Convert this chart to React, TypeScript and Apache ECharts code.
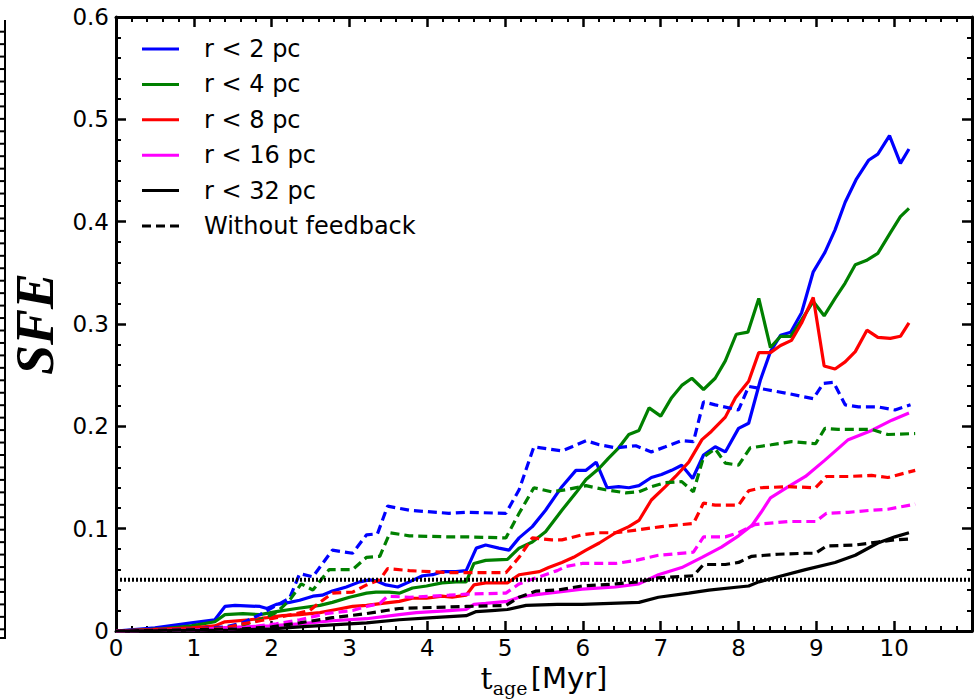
import { useEffect, useRef } from 'react';
import * as echarts from 'echarts';

// Legend labels and line colours, one per enclosing radius
const radiusLabels = ['r < 2 pc', 'r < 4 pc', 'r < 8 pc', 'r < 16 pc', 'r < 32 pc'];
const radiusColors = ['#0000ff', '#008000', '#ff0000', '#ff00ff', '#000000'];
const noFeedbackLabel = 'Without feedback';
const sfeThreshold = 0.05;
const ageRange = [0, 11];
const sfeRange = [0, 0.6];

// SFE vs cluster age [Myr], with feedback (solid)
const sfeR2 = [
  [0, 0], [0.5, 0.003], [0.97, 0.008], [1.27, 0.011], [1.4, 0.024], [1.53, 0.025], [1.85, 0.024],
  [1.94, 0.022], [2.06, 0.026], [2.23, 0.028], [2.36, 0.03], [2.53, 0.034], [2.65, 0.035],
  [2.78, 0.039], [2.96, 0.043], [3.13, 0.048], [3.26, 0.05], [3.34, 0.049], [3.47, 0.045],
  [3.62, 0.043], [3.77, 0.048], [3.94, 0.054], [4.07, 0.055], [4.19, 0.058], [4.37, 0.058],
  [4.5, 0.059], [4.63, 0.081], [4.75, 0.084], [4.92, 0.081], [5.05, 0.079], [5.18, 0.091],
  [5.35, 0.102], [5.52, 0.118], [5.73, 0.141], [5.91, 0.157], [6.04, 0.157], [6.17, 0.165],
  [6.31, 0.14], [6.46, 0.141], [6.59, 0.14], [6.72, 0.142], [6.88, 0.15], [7.01, 0.153],
  [7.14, 0.157], [7.27, 0.162], [7.41, 0.149], [7.55, 0.172], [7.7, 0.18], [7.83, 0.175],
  [8.0, 0.198], [8.13, 0.203], [8.28, 0.245], [8.41, 0.273], [8.54, 0.289], [8.67, 0.292],
  [8.81, 0.311], [8.96, 0.351], [9.11, 0.37], [9.24, 0.392], [9.37, 0.419], [9.51, 0.441],
  [9.67, 0.46], [9.79, 0.466], [9.94, 0.484], [10.08, 0.457], [10.19, 0.471],
];
const sfeR4 = [
  [0, 0], [0.6, 0.002], [0.97, 0.005], [1.27, 0.009], [1.4, 0.016], [1.63, 0.017], [1.85, 0.016],
  [2.06, 0.019], [2.32, 0.022], [2.62, 0.025], [2.78, 0.028], [3.0, 0.033], [3.22, 0.037],
  [3.34, 0.038], [3.51, 0.038], [3.64, 0.037], [3.81, 0.042], [3.99, 0.044], [4.19, 0.047],
  [4.37, 0.048], [4.5, 0.048], [4.6, 0.066], [4.75, 0.069], [5.03, 0.07], [5.18, 0.081],
  [5.35, 0.087], [5.52, 0.097], [5.73, 0.118], [5.91, 0.135], [6.04, 0.148], [6.21, 0.159],
  [6.33, 0.169], [6.46, 0.179], [6.59, 0.192], [6.72, 0.196], [6.85, 0.218], [7.0, 0.21],
  [7.14, 0.228], [7.27, 0.24], [7.4, 0.247], [7.55, 0.236], [7.7, 0.247], [7.83, 0.264],
  [7.97, 0.29], [8.12, 0.292], [8.26, 0.325], [8.41, 0.277], [8.54, 0.288], [8.67, 0.288],
  [8.81, 0.304], [8.96, 0.322], [9.1, 0.308], [9.24, 0.325], [9.37, 0.34], [9.5, 0.358],
  [9.64, 0.362], [9.79, 0.369], [9.95, 0.389], [10.08, 0.405], [10.19, 0.413],
];
const sfeR8 = [
  [0, 0], [0.97, 0.003], [1.27, 0.005], [1.4, 0.009], [1.72, 0.011], [1.94, 0.013], [2.14, 0.015],
  [2.36, 0.016], [2.62, 0.018], [2.83, 0.021], [3.04, 0.024], [3.22, 0.025], [3.42, 0.027],
  [3.64, 0.029], [3.81, 0.032], [3.99, 0.032], [4.19, 0.034], [4.32, 0.033], [4.5, 0.035],
  [4.6, 0.045], [4.75, 0.047], [5.03, 0.047], [5.18, 0.055], [5.44, 0.058], [5.56, 0.062],
  [5.73, 0.067], [5.88, 0.072], [6.04, 0.079], [6.21, 0.086], [6.42, 0.096], [6.59, 0.102],
  [6.72, 0.108], [6.88, 0.128], [7.06, 0.141], [7.19, 0.151], [7.36, 0.165], [7.53, 0.187],
  [7.65, 0.195], [7.83, 0.209], [7.96, 0.228], [8.13, 0.244], [8.26, 0.272], [8.41, 0.272],
  [8.54, 0.279], [8.68, 0.284], [8.81, 0.301], [8.96, 0.326], [9.1, 0.259], [9.24, 0.256],
  [9.37, 0.263], [9.5, 0.273], [9.65, 0.294], [9.79, 0.287], [9.95, 0.286], [10.08, 0.288],
  [10.19, 0.301],
];
const sfeR16 = [
  [0, 0], [1.0, 0.001], [1.33, 0.003], [1.97, 0.005], [2.36, 0.007], [2.78, 0.01], [3.22, 0.012],
  [3.64, 0.016], [3.86, 0.018], [4.07, 0.019], [4.28, 0.02], [4.5, 0.021], [4.6, 0.026],
  [4.75, 0.027], [5.03, 0.029], [5.18, 0.033], [5.35, 0.035], [5.67, 0.038], [5.99, 0.041],
  [6.42, 0.043], [6.72, 0.046], [6.97, 0.055], [7.27, 0.062], [7.53, 0.072], [7.78, 0.082],
  [8.0, 0.093], [8.17, 0.103], [8.29, 0.116], [8.41, 0.13], [8.64, 0.141], [8.86, 0.151],
  [9.11, 0.167], [9.41, 0.187], [9.71, 0.196], [9.97, 0.206], [10.19, 0.213],
];
const sfeR32 = [
  [0, 0], [1.5, 0.001], [2.0, 0.002], [2.36, 0.004], [2.78, 0.006], [3.22, 0.008], [3.64, 0.011],
  [4.07, 0.013], [4.5, 0.015], [4.63, 0.019], [4.83, 0.02], [5.03, 0.021], [5.27, 0.025],
  [5.67, 0.026], [5.99, 0.026], [6.72, 0.028], [6.97, 0.033], [7.36, 0.037], [7.62, 0.04],
  [8.0, 0.043], [8.13, 0.044], [8.26, 0.048], [8.51, 0.053], [8.86, 0.06], [9.24, 0.067],
  [9.5, 0.074], [9.79, 0.086], [10.01, 0.092], [10.19, 0.096],
];

// SFE vs cluster age [Myr], without feedback (dashed)
const sfeR2NoFb = [
  [0, 0], [1.0, 0.002], [1.4, 0.004], [1.63, 0.008], [1.85, 0.016], [2.06, 0.025], [2.23, 0.032],
  [2.36, 0.056], [2.53, 0.053], [2.78, 0.079], [3.04, 0.076], [3.22, 0.094], [3.36, 0.095],
  [3.49, 0.122], [3.77, 0.118], [4.28, 0.115], [4.5, 0.116], [5.01, 0.115], [5.18, 0.138],
  [5.37, 0.18], [5.73, 0.176], [5.86, 0.18], [6.04, 0.186], [6.21, 0.182], [6.42, 0.179],
  [6.68, 0.181], [6.88, 0.175], [7.06, 0.18], [7.27, 0.186], [7.42, 0.185], [7.55, 0.224],
  [7.7, 0.221], [8.0, 0.216], [8.13, 0.239], [8.35, 0.236], [8.64, 0.232], [8.96, 0.227],
  [9.09, 0.242], [9.22, 0.243], [9.37, 0.221], [9.54, 0.219], [9.79, 0.219], [10.01, 0.216],
  [10.21, 0.221],
];
const sfeR4NoFb = [
  [0, 0], [1.4, 0.002], [1.63, 0.006], [1.85, 0.011], [2.06, 0.018], [2.23, 0.03], [2.38, 0.046],
  [2.53, 0.04], [2.74, 0.06], [3.04, 0.06], [3.22, 0.072], [3.39, 0.073], [3.52, 0.096],
  [3.77, 0.093], [4.28, 0.092], [4.5, 0.092], [5.01, 0.091], [5.18, 0.115], [5.37, 0.14],
  [5.6, 0.136], [5.78, 0.138], [6.04, 0.142], [6.29, 0.138], [6.55, 0.135], [6.72, 0.136],
  [6.88, 0.141], [7.06, 0.145], [7.27, 0.146], [7.42, 0.136], [7.55, 0.17], [7.7, 0.178],
  [7.83, 0.164], [8.0, 0.162], [8.15, 0.179], [8.42, 0.182], [8.68, 0.185], [8.99, 0.183],
  [9.11, 0.198], [9.28, 0.197], [9.71, 0.197], [9.92, 0.192], [10.27, 0.193],
];
const sfeR8NoFb = [
  [0, 0], [1.4, 0.003], [1.63, 0.007], [1.85, 0.01], [2.06, 0.013], [2.32, 0.017], [2.49, 0.02],
  [2.62, 0.028], [2.78, 0.037], [3.04, 0.038], [3.22, 0.045], [3.39, 0.05], [3.49, 0.061],
  [3.77, 0.059], [4.28, 0.057], [4.5, 0.057], [5.01, 0.057], [5.18, 0.072], [5.35, 0.091],
  [5.6, 0.089], [5.73, 0.089], [5.99, 0.094], [6.21, 0.096], [6.42, 0.096], [6.72, 0.099],
  [7.01, 0.102], [7.27, 0.104], [7.42, 0.105], [7.55, 0.125], [7.7, 0.123], [8.0, 0.123],
  [8.13, 0.137], [8.29, 0.14], [8.64, 0.141], [8.99, 0.14], [9.13, 0.151], [9.41, 0.151],
  [9.71, 0.152], [9.92, 0.15], [10.27, 0.157],
];
const sfeR16NoFb = [
  [0, 0], [1.5, 0.002], [2.06, 0.007], [2.36, 0.011], [2.7, 0.017], [3.04, 0.02], [3.22, 0.024],
  [3.39, 0.027], [3.49, 0.034], [3.77, 0.033], [4.28, 0.035], [4.5, 0.036], [5.01, 0.037],
  [5.18, 0.046], [5.44, 0.053], [5.67, 0.059], [5.78, 0.063], [5.99, 0.066], [6.42, 0.066],
  [6.68, 0.069], [6.97, 0.074], [7.42, 0.077], [7.55, 0.092], [7.83, 0.092], [8.0, 0.096],
  [8.21, 0.104], [8.64, 0.107], [8.99, 0.107], [9.13, 0.115], [9.41, 0.116], [9.71, 0.118],
  [9.92, 0.119], [10.27, 0.124],
];
const sfeR32NoFb = [
  [0, 0], [1.6, 0.002], [2.0, 0.004], [2.36, 0.008], [2.78, 0.013], [3.22, 0.017], [3.47, 0.02],
  [3.64, 0.022], [4.07, 0.023], [4.5, 0.024], [5.01, 0.025], [5.18, 0.033], [5.4, 0.039],
  [5.67, 0.04], [5.99, 0.044], [6.42, 0.046], [6.72, 0.048], [6.97, 0.052], [7.42, 0.054],
  [7.55, 0.065], [7.83, 0.065], [8.0, 0.067], [8.17, 0.073], [8.51, 0.075], [8.86, 0.076],
  [8.99, 0.076], [9.13, 0.083], [9.5, 0.084], [9.79, 0.087], [10.01, 0.089], [10.21, 0.09],
];

const withFeedback = [sfeR2, sfeR4, sfeR8, sfeR16, sfeR32];
const withoutFeedback = [sfeR2NoFb, sfeR4NoFb, sfeR8NoFb, sfeR16NoFb, sfeR32NoFb];

const GRID = { left: 116, top: 17, right: 3, bottom: 68 };
const SPINE = 3;
const LINE_W = 3.2;
const DASH = [9, 5];
// legend swatches: a solid bar, and three dashes for the no-feedback runs
const SOLID_ICON = 'rect';
const DASHED_ICON = 'path://M0,0H9V3H0Z M14,0H23V3H14Z M28,0H37V3H28Z';

function buildOption(): echarts.EChartsCoreOption {
  const feedbackSeries = withFeedback.map((data, i) => ({
    type: 'line',
    name: radiusLabels[i],
    data,
    symbol: 'none',
    showSymbol: false,
    silent: true,
    z: 3,
    lineStyle: { color: radiusColors[i], width: LINE_W, type: 'solid' },
    itemStyle: { color: radiusColors[i] },
  }));
  const noFeedbackSeries = withoutFeedback.map((data, i) => ({
    type: 'line',
    // the black curve stands in the legend for every dashed curve
    name: i === 4 ? noFeedbackLabel : `${radiusLabels[i]} (no feedback)`,
    data,
    symbol: 'none',
    showSymbol: false,
    silent: true,
    z: 3,
    lineStyle: { color: radiusColors[i], width: LINE_W, type: DASH },
    itemStyle: { color: radiusColors[i] },
  }));
  const thresholdSeries = {
    type: 'line',
    name: 'threshold',
    data: [[ageRange[0], sfeThreshold], [ageRange[1], sfeThreshold]],
    symbol: 'none',
    silent: true,
    z: 4,
    lineStyle: { color: '#000', width: 4, type: [2, 2] },
  };

  const tickFont = { fontFamily: 'DejaVu Sans', fontSize: 23, color: '#000' };
  const axisLine = { show: true, onZero: false, lineStyle: { color: '#000', width: SPINE } };
  const axisTick = { show: true, inside: true, length: 10, lineStyle: { color: '#000', width: 2.5 } };
  const minorTick = { show: true, splitNumber: 5, length: 5, lineStyle: { color: '#000', width: 2 } };

  const xBase = {
    type: 'value',
    min: ageRange[0],
    max: ageRange[1],
    interval: 1,
    axisLine,
    axisTick,
    minorTick,
    splitLine: { show: false },
  };
  const yBase = {
    type: 'value',
    min: sfeRange[0],
    max: sfeRange[1],
    interval: 0.1,
    axisLine,
    axisTick,
    minorTick,
    splitLine: { show: false },
  };

  // Right-hand spine of the neighbouring panel, cut off at the left edge
  const neighbour: any[] = [
    { type: 'line', shape: { x1: 5, y1: 20, x2: 5, y2: 638 }, style: { stroke: '#000', lineWidth: 2 } },
    { type: 'line', shape: { x1: 0, y1: 638, x2: 6, y2: 638 }, style: { stroke: '#000', lineWidth: 2 } },
  ];
  for (let y = 31.7; y < 632; y += 12.45) {
    neighbour.push({
      type: 'line',
      shape: { x1: 0, y1: y, x2: 5, y2: y },
      style: { stroke: '#000', lineWidth: 2 },
    });
  }

  const legendData = [
    ...radiusLabels.map((name) => ({ name, icon: SOLID_ICON })),
    { name: noFeedbackLabel, icon: DASHED_ICON },
  ];

  return {
    animation: false,
    backgroundColor: '#fff',
    grid: { ...GRID, containLabel: false, outerBoundsMode: 'none' },
    legend: {
      orient: 'vertical',
      left: 142,
      top: 37,
      padding: 0,
      itemWidth: 37,
      itemHeight: 3,
      itemGap: 11.4,
      symbolKeepAspect: false,
      selectedMode: false,
      data: legendData,
      textStyle: {
        fontFamily: 'DejaVu Sans',
        fontSize: 24,
        color: '#000',
        lineHeight: 24,
        padding: [0, 0, 0, 20],
      },
    },
    xAxis: [
      {
        ...xBase,
        position: 'bottom',
        axisLabel: {
          ...tickFont,
          margin: 5,
          formatter: (v: number) => (v >= ageRange[1] ? '' : String(v)),
        },
        name: '{t|t}{s|age} {u|[Myr]}',
        nameLocation: 'middle',
        nameGap: 25,
        nameTextStyle: {
          rich: {
            t: { fontFamily: 'DejaVu Serif', fontSize: 30, lineHeight: 34, verticalAlign: 'top', color: '#000' },
            s: { fontFamily: 'DejaVu Serif', fontSize: 19, lineHeight: 20, verticalAlign: 'bottom', color: '#000' },
            u: { fontFamily: 'DejaVu Sans', fontSize: 29, lineHeight: 34, verticalAlign: 'top', color: '#000' },
          },
        },
      },
      { ...xBase, position: 'top', axisLabel: { show: false } },
    ],
    yAxis: [
      {
        ...yBase,
        position: 'left',
        axisLabel: {
          ...tickFont,
          margin: 7,
          formatter: (v: number) => (v === 0 ? '0' : v.toFixed(1)),
        },
        name: 'SFE',
        nameLocation: 'middle',
        nameGap: 47,
        nameTextStyle: {
          fontFamily: 'Liberation Serif',
          fontWeight: 'bold',
          fontStyle: 'italic',
          fontSize: 54,
          color: '#000',
        },
      },
      { ...yBase, position: 'right', axisLabel: { show: false } },
    ],
    graphic: neighbour,
    series: [...feedbackSeries, ...noFeedbackSeries, thresholdSeries],
  };
}

export default function App() {
  const ref = useRef<HTMLDivElement>(null);
  useEffect(() => {
    if (!ref.current) return;
    const chart = echarts.init(ref.current, undefined, { renderer: 'svg' });
    chart.setOption(buildOption());
    return () => chart.dispose();
  }, []);
  return (
    <div
      ref={ref}
      style={{ position: 'absolute', left: 0, top: 0, width: 975, height: 699, background: '#fff' }}
    />
  );
}
